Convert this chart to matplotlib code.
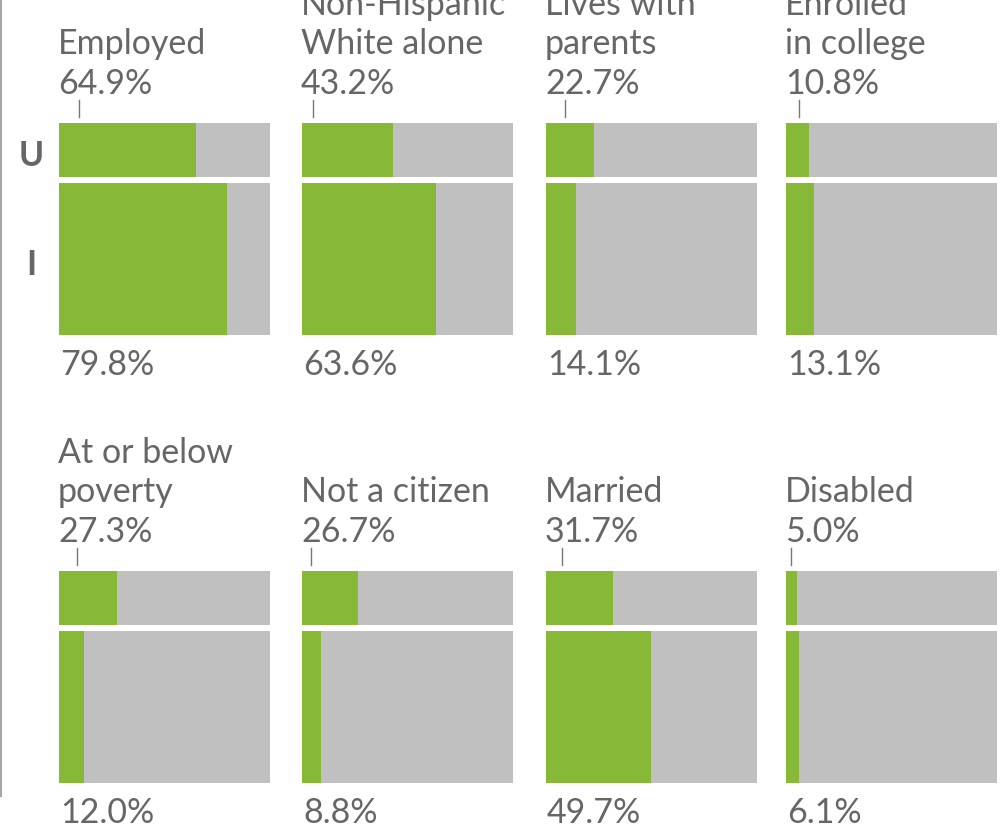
import matplotlib
matplotlib.use("Agg")
import matplotlib.pyplot as plt
from matplotlib.lines import Line2D

# ---- data ----
categories = ["Employed", "Non-Hispanic\nWhite alone", "Lives with\nparents", "Enrolled\nin college",
              "At or below\npoverty", "Not a citizen", "Married", "Disabled"]
u_values = [64.9, 43.2, 22.7, 10.8, 27.3, 26.7, 31.7, 5.0]
i_values = [79.8, 63.6, 14.1, 13.1, 12.0, 8.8, 49.7, 6.1]
row_labels = ["U", "I"]

# ---- style ----
W, H = 1001, 837
GREEN = "#88b837"
GREY = "#c0c0c0"
TEXT = "#666666"
FONT = ["Lato", "DejaVu Sans"]
FS = 24.5
col_left = [59, 302, 546, 786]
panel_w = 211
row_top = [124, 572]
panel_h = 212
top_bar = (0, 54)
bot_bar = (60, 212)
line_step = 39.5
tick_offset_frac = [0.095, 0.052, 0.09, 0.062, 0.085, 0.043, 0.076, 0.026]

fig = plt.figure(figsize=(W / 100, H / 100), dpi=100)


def fx(x):
    return x / W


def fy(y):
    return 1 - y / H


for k, cat in enumerate(categories):
    r, c = divmod(k, 4)
    left, top = col_left[c], row_top[r]
    ax = fig.add_axes([fx(left), fy(top + panel_h), panel_w / W, panel_h / H])
    ax.set_xlim(0, 100)
    ax.set_ylim(panel_h, 0)
    ax.axis("off")
    for (y0, y1), v in ((top_bar, u_values[k]), (bot_bar, i_values[k])):
        ax.barh((y0 + y1) / 2, v, height=y1 - y0, left=0, color=GREEN, linewidth=0)
        ax.barh((y0 + y1) / 2, 100 - v, height=y1 - y0, left=v, color=GREY, linewidth=0)

    # label above
    lines = cat.split("\n") + [f"{u_values[k]:.1f}%"]
    base = top - 30
    n = len(lines)
    for j, t in enumerate(lines):
        fig.text(fx(left - 1), fy(base - (n - 1 - j) * line_step), t, family=FONT,
                 fontsize=FS, color=TEXT, va="baseline", ha="left")
    # small tick
    tx = left + tick_offset_frac[k] * panel_w
    fig.add_artist(Line2D([fx(tx), fx(tx)], [fy(top - 23), fy(top - 6)],
                          transform=fig.transFigure, color="#777777", lw=1.0))
    # value below
    fig.text(fx(left + 1), fy(top + panel_h + 39), f"{i_values[k]:.1f}%", family=FONT,
             fontsize=FS, color=TEXT, va="baseline", ha="left")

# row labels U / I
fig.text(fx(31), fy(156), row_labels[0], family=FONT, fontsize=FS, fontweight="bold",
         color=TEXT, ha="center", va="center")
fig.text(fx(31), fy(265), row_labels[1], family=FONT, fontsize=FS, fontweight="bold",
         color=TEXT, ha="center", va="center")

# left rule
fig.add_artist(Line2D([fx(1), fx(1)], [fy(0), fy(797)], transform=fig.transFigure,
                      color="#a6a6a6", lw=1.5))

fig.savefig("out.png", dpi=100, facecolor="white")
